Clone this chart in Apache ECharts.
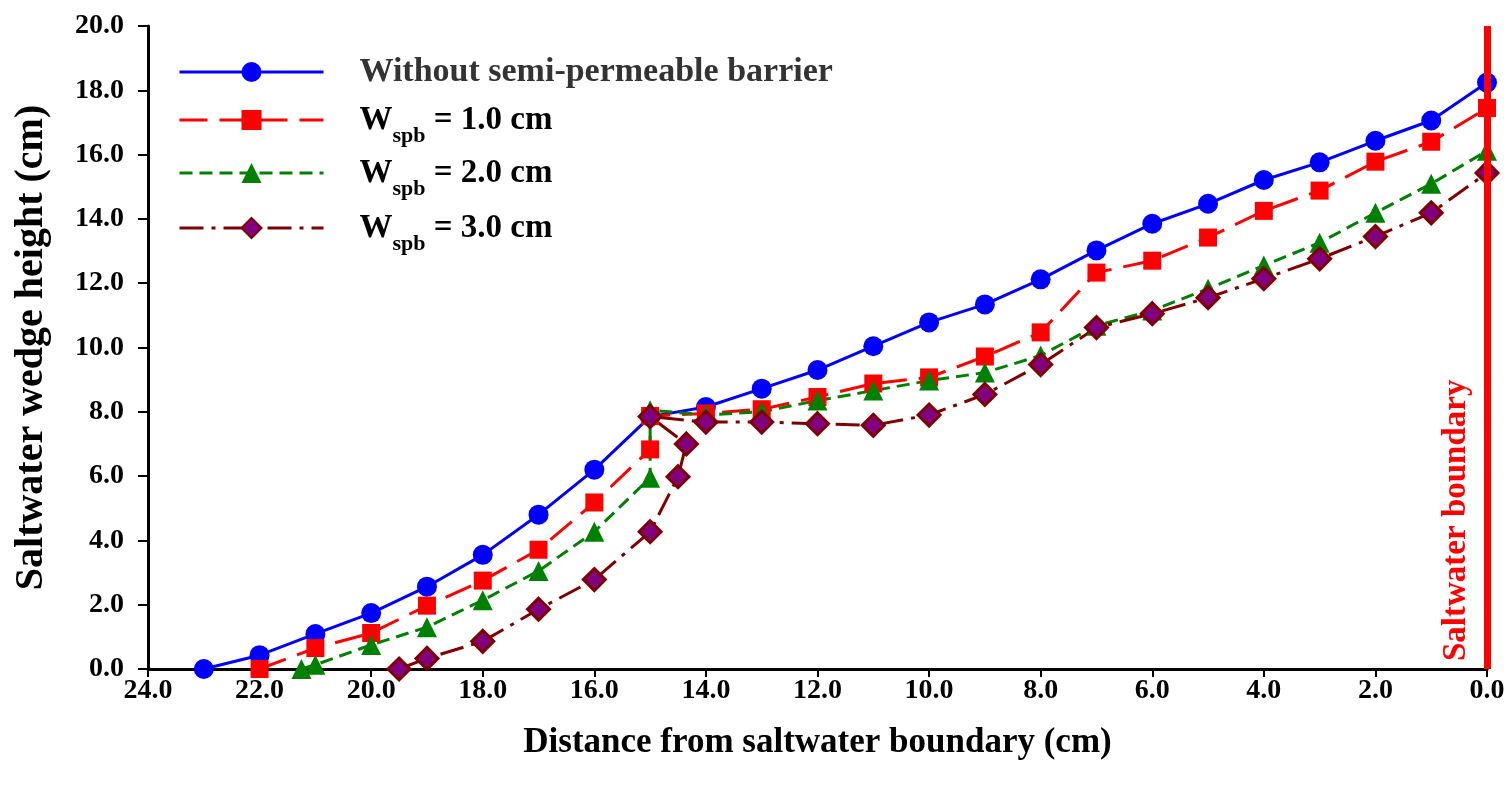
<!DOCTYPE html>
<html>
<head>
<meta charset="utf-8">
<script src="https://cdn.jsdelivr.net/npm/echarts@6/dist/echarts.min.js"></script>
<style>
  html, body { margin: 0; padding: 0; background: #fff; }
  #chart { width: 1511px; height: 800px; }
</style>
</head>
<body>
<div id="chart"></div>
<script>
// distance from saltwater boundary (cm) and wedge height (cm) for each case
const xNoBarrier = [23, 22, 21, 20, 19, 18, 17, 16, 15, 14, 13, 12, 11, 10, 9, 8, 7, 6, 5, 4, 3, 2, 1, 0]
const yNoBarrier = [0, 0.43, 1.09, 1.74, 2.56, 3.55, 4.8, 6.2, 7.85, 8.15, 8.72, 9.3, 10.04, 10.78, 11.34, 12.12, 13.02, 13.85, 14.47, 15.21, 15.76, 16.43, 17.06, 18.24]

const xW1 = [22, 21, 20, 19, 18, 17, 16, 15, 15, 14, 13, 12, 11, 10, 9, 8, 7, 6, 5, 4, 3, 2, 1, 0]
const yW1 = [0, 0.65, 1.12, 1.97, 2.75, 3.71, 5.18, 6.83, 7.87, 7.95, 8.08, 8.46, 8.88, 9.07, 9.72, 10.47, 12.33, 12.7, 13.42, 14.25, 14.88, 15.78, 16.4, 17.45]

const xW2 = [21.25, 21, 20, 19, 18, 17, 16, 15, 15, 14, 13, 12, 11, 10, 9, 8, 7, 6, 5, 4, 3, 2, 1, 0]
const yW2 = [0, 0.13, 0.75, 1.3, 2.14, 3.05, 4.27, 5.95, 8.05, 7.9, 8.0, 8.35, 8.66, 8.97, 9.22, 9.75, 10.68, 11.15, 11.83, 12.55, 13.26, 14.19, 15.09, 16.12]

const xW3 = [19.5, 19, 18, 17, 16, 15, 14.5, 14.35, 15, 14, 13, 12, 11, 10, 9, 8, 7, 6, 5, 4, 3, 2, 1, 0]
const yW3 = [0, 0.33, 0.86, 1.86, 2.78, 4.27, 5.98, 7.0, 7.85, 7.68, 7.68, 7.63, 7.58, 7.9, 8.54, 9.47, 10.62, 11.05, 11.55, 12.14, 12.76, 13.45, 14.19, 15.43]

const seriesNames = ['Without semi-permeable barrier', 'W1', 'W2', 'W3']
const widthLabels = { W1: '1.0', W2: '2.0', W3: '3.0' }

const FONT = '"Liberation Serif", "Times New Roman", serif'

function pairs(xs, ys) {
  return xs.map((x, i) => [x, ys[i]])
}

const chart = echarts.init(document.getElementById('chart'))

// one legend per row so each row sits where the picture has it
const legendRows = [51, 93, 146, 201]
const legends = seriesNames.map((name, i) => ({
  data: [name],
  left: 178,
  top: legendRows[i],
  padding: 0,
  itemWidth: 144,
  itemHeight: 25,
  selectedMode: false,
  lineStyle: { width: 3 },
  formatter: function (n) {
    if (widthLabels[n]) {
      return '{w|W}{s|spb}{w| = ' + widthLabels[n] + ' cm}'
    }
    return n
  },
  textStyle: {
    fontFamily: FONT,
    fontWeight: 'bold',
    fontSize: 34,
    lineHeight: 42,
    color: i === 0 ? '#333' : '#000',
    padding: [0, 0, 0, 31],
    rich: {
      w: { fontFamily: FONT, fontWeight: 'bold', fontSize: 33, lineHeight: 54, color: '#000' },
      s: { fontFamily: FONT, fontWeight: 'bold', fontSize: 22, lineHeight: 20, verticalAlign: 'bottom', color: '#000' }
    }
  }
}))

chart.setOption({
  backgroundColor: '#fff',
  animation: false,
  legend: legends,
  grid: {
    left: 148,
    right: 24,
    top: 26,
    bottom: 131
  },
  xAxis: {
    type: 'value',
    inverse: true,
    min: 0,
    max: 24,
    interval: 2,
    name: 'Distance from saltwater boundary (cm)',
    nameLocation: 'middle',
    nameGap: 56,
    nameTextStyle: { fontFamily: FONT, fontWeight: 'bold', fontSize: 35, color: '#000' },
    axisLine: { onZero: false, lineStyle: { color: '#000', width: 3 } },
    axisTick: { length: 8, lineStyle: { color: '#000', width: 2 } },
    axisLabel: {
      margin: 8,
      fontFamily: FONT, fontWeight: 'bold', fontSize: 28, color: '#000',
      formatter: v => v.toFixed(1)
    },
    splitLine: { show: false }
  },
  yAxis: {
    type: 'value',
    position: 'left',
    min: 0,
    max: 20,
    interval: 2,
    name: 'Saltwater wedge height (cm)',
    nameLocation: 'middle',
    nameGap: 96,
    nameTextStyle: { fontFamily: FONT, fontWeight: 'bold', fontSize: 40, color: '#000' },
    axisLine: { show: true, onZero: false, lineStyle: { color: '#000', width: 3 } },
    axisTick: { show: true, length: 10, lineStyle: { color: '#000', width: 2 } },
    axisLabel: {
      margin: 24,
      fontFamily: FONT, fontWeight: 'bold', fontSize: 28, color: '#000',
      formatter: v => v.toFixed(1)
    },
    splitLine: { show: false }
  },
  series: [
    {
      name: seriesNames[0],
      type: 'line',
      data: pairs(xNoBarrier, yNoBarrier),
      symbol: 'circle',
      symbolSize: 20,
      itemStyle: { color: '#0000ff' },
      lineStyle: { color: '#0000ff', width: 3 },
      markLine: {
        silent: true,
        symbol: ['none', 'none'],
        data: [{ xAxis: 0 }],
        lineStyle: { color: '#ff0000', width: 7, type: 'solid' },
        label: {
          show: true,
          formatter: 'Saltwater boundary',
          position: 'insideStartTop',
          distance: [8, 14],
          fontFamily: FONT, fontWeight: 'bold', fontSize: 33, color: '#ff0000'
        }
      }
    },
    {
      name: seriesNames[1],
      type: 'line',
      data: pairs(xW1, yW1),
      symbol: 'rect',
      symbolSize: 18,
      itemStyle: { color: '#ff0000' },
      lineStyle: { color: '#ff0000', width: 3, type: [28, 12] }
    },
    {
      name: seriesNames[2],
      type: 'line',
      data: pairs(xW2, yW2),
      symbol: 'triangle',
      symbolSize: 20,
      itemStyle: { color: '#008000' },
      lineStyle: { color: '#008000', width: 3, type: [13, 7] }
    },
    {
      name: seriesNames[3],
      type: 'line',
      data: pairs(xW3, yW3),
      symbol: 'diamond',
      symbolSize: 22,
      itemStyle: { color: '#800080', borderColor: '#800000', borderWidth: 3 },
      lineStyle: { color: '#800000', width: 3, type: [24, 8, 4, 8] }
    }
  ]
})
</script>
</body>
</html>
